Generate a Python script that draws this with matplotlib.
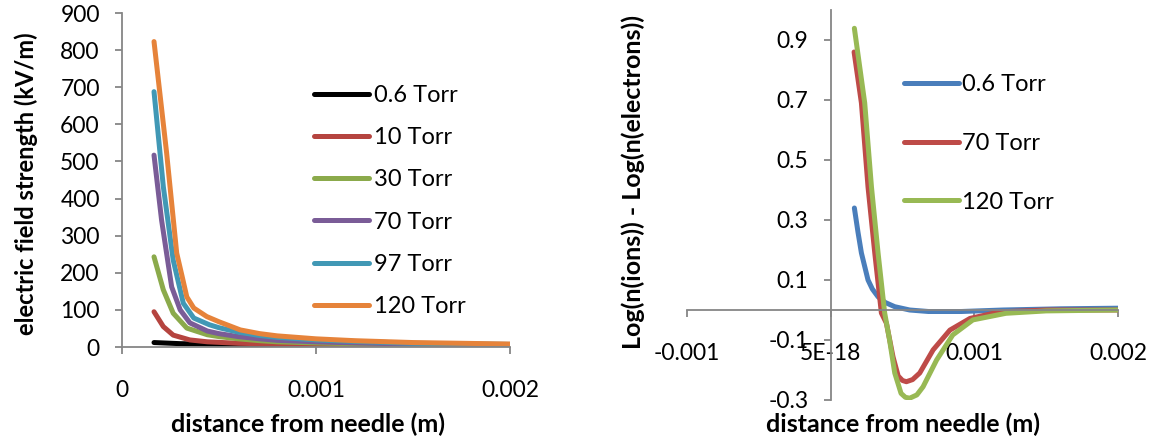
import matplotlib
matplotlib.use("Agg")
import matplotlib.pyplot as plt

plt.rcParams['font.family'] = ['Lato', 'DejaVu Sans']

# Left chart: electric field strength (kV/m) vs distance from needle (m)
field_labels = ['0.6 Torr', '10 Torr', '30 Torr', '70 Torr', '97 Torr', '120 Torr']
x_06 = [0.000165, 0.0003, 0.0005, 0.001, 0.002]
e_06 = [12, 9, 7, 5.5, 5]
x_10 = [0.000165, 0.000213, 0.000264, 0.00035, 0.00044, 0.0006, 0.0008, 0.001, 0.0015, 0.002]
e_10 = [95, 55, 32, 19, 14, 10, 8, 7, 6, 5]
x_30 = [0.000165, 0.000213, 0.000264, 0.000334, 0.00044, 0.0005, 0.0006, 0.00071, 0.0008,
        0.001, 0.0012, 0.0015, 0.002]
e_30 = [243, 154, 91, 51, 33, 28, 22, 17, 14, 11, 9, 7, 5]
x_70 = [0.000165, 0.000204, 0.000256, 0.0003, 0.00035, 0.00044, 0.0005, 0.0006, 0.00071,
        0.0008, 0.001, 0.0012, 0.0015, 0.002]
e_70 = [517, 342, 162, 100, 65, 43, 36, 28, 22, 18, 14, 11, 8, 6]
x_97 = [0.000165, 0.000213, 0.000264, 0.000316, 0.00037, 0.00045, 0.0005, 0.0006, 0.00071,
        0.0008, 0.001, 0.0012, 0.0015, 0.002]
e_97 = [688, 432, 234, 118, 78, 60, 52, 40, 31, 26, 19, 15, 10, 7]
x_120 = [0.000165, 0.00023, 0.000282, 0.00031, 0.000334, 0.00037, 0.000437, 0.0005, 0.00061,
         0.00071, 0.0008, 0.001, 0.0012, 0.0015, 0.002]
e_120 = [823, 523, 253, 190, 135, 105, 82, 68, 46, 36, 30, 22, 17, 12, 8]
field_colors = ['#000000', '#B5443F', '#8BAA4B', '#7A5C97', '#4198B5', '#E6833A']

# Right chart: Log(n(ions)) - Log(n(electrons)) vs distance from needle (m)
ratio_labels = ['0.6 Torr', '70 Torr', '120 Torr']
x_r06 = [0.000165, 0.00019, 0.000214, 0.00026, 0.00029, 0.00033, 0.00038, 0.000446, 0.00055,
         0.00068, 0.00091, 0.0012, 0.0016, 0.002]
r_06 = [0.34, 0.26, 0.19, 0.10, 0.07, 0.044, 0.025, 0.011, 0.0, -0.005, -0.005, 0.0, 0.004,
        0.006]
x_r70 = [0.000163, 0.000214, 0.00026, 0.000307, 0.000353, 0.000388, 0.000434, 0.00047,
         0.0005, 0.000527, 0.00057, 0.00062, 0.000713, 0.00083, 0.00097, 0.00118, 0.0015, 0.002]
r_70 = [0.86, 0.69, 0.41, 0.19, -0.01, -0.044, -0.156, -0.22, -0.235, -0.239, -0.232, -0.21,
        -0.133, -0.067, -0.028, -0.006, 0.0, 0.0]
x_r120 = [0.000165, 0.000237, 0.000284, 0.00033, 0.000376, 0.00041, 0.000446, 0.00049, 0.00052,
          0.00055, 0.0006, 0.000643, 0.000737, 0.00085, 0.00099, 0.00122, 0.0015, 0.002]
r_120 = [0.939, 0.69, 0.41, 0.19, -0.01, -0.1, -0.21, -0.278, -0.291, -0.294, -0.283, -0.256,
         -0.167, -0.083, -0.033, -0.011, -0.003, 0.0]
ratio_colors = ['#4A7EBB', '#BE4B48', '#98B954']

W, H = 1160, 445
fig = plt.figure(figsize=(W / 100, H / 100), dpi=100)
axis_grey = '#868686'

# ---- left chart
ax1 = fig.add_axes([122 / W, 1 - 347 / H, 388 / W, 334 / H])
for xs, vals, lab, col in zip([x_06, x_10, x_30, x_70, x_97, x_120],
                              [e_06, e_10, e_30, e_70, e_97, e_120],
                              field_labels, field_colors):
    ax1.plot(xs, vals, color=col, lw=3.6, label=lab, solid_capstyle='round',
             solid_joinstyle='round')
ax1.set_xlim(0, 0.002)
ax1.set_ylim(0, 900)
ax1.set_xticks([0, 0.001, 0.002])
ax1.set_xticklabels(['0', '0.001', '0.002'])
ax1.set_yticks(range(0, 901, 100))
for s in ['top', 'right']:
    ax1.spines[s].set_visible(False)
for s in ['left', 'bottom']:
    ax1.spines[s].set_color(axis_grey)
    ax1.spines[s].set_linewidth(1.3)
ax1.tick_params(axis='both', color=axis_grey, width=1.3, length=5, labelsize=16.5)
ax1.tick_params(axis='x', pad=19)
ax1.tick_params(axis='y', pad=11)
ax1.set_xlabel('distance from needle (m)', fontsize=18, fontweight='bold')
ax1.xaxis.set_label_coords(0.48, -0.195)
ax1.set_ylabel('electric field strength (kV/m)', fontsize=17, fontweight='bold')
ax1.yaxis.set_label_coords(-0.216, 0.49)
ax1.legend(loc='upper left', bbox_to_anchor=(314 / W, 1 - 85 / H),
           bbox_transform=fig.transFigure, frameon=False, fontsize=17,
           handlelength=2.35, handletextpad=0.17, labelspacing=0.9,
           borderpad=0, borderaxespad=0)

# ---- right chart
ax2 = fig.add_axes([687 / W, 1 - 400 / H, 431 / W, 390 / H])
for xs, ys, lab, col in zip([x_r06, x_r70, x_r120], [r_06, r_70, r_120],
                            ratio_labels, ratio_colors):
    ax2.plot(xs, ys, color=col, lw=3.6, label=lab, solid_capstyle='round',
             solid_joinstyle='round')
ax2.set_xlim(-0.001, 0.002)
ax2.set_ylim(-0.3, 1.0)
ax2.set_xticks([-0.001, 0, 0.001, 0.002])
ax2.set_xticklabels(['-0.001', '5E-18', '0.001', '0.002'])
ax2.set_yticks([0.9, 0.7, 0.5, 0.3, 0.1, -0.1, -0.3])
ax2.set_yticklabels(['0.9', '0.7', '0.5', '0.3', '0.1', '-0.1', '-0.3'])
for s in ['top', 'right']:
    ax2.spines[s].set_visible(False)
ax2.spines['left'].set_position(('data', 0))
ax2.spines['bottom'].set_position(('data', 0))
for s in ['left', 'bottom']:
    ax2.spines[s].set_color(axis_grey)
    ax2.spines[s].set_linewidth(1.3)
ax2.tick_params(axis='both', color=axis_grey, width=1.3, length=5, labelsize=16.5)
ax2.tick_params(axis='x', pad=19)
ax2.tick_params(axis='y', pad=11)
ax2.set_xlabel('distance from needle (m)', fontsize=18, fontweight='bold')
ax2.xaxis.set_label_coords(0.5, -0.032)
ax2.set_ylabel('Log(n(ions)) - Log(n(electrons))', fontsize=18, fontweight='bold')
ax2.yaxis.set_label_coords(-0.097, 0.56)
ax2.legend(loc='upper left', bbox_to_anchor=(904 / W, 1 - 74 / H),
           bbox_transform=fig.transFigure, frameon=False, fontsize=17,
           handlelength=2.35, handletextpad=0.12, labelspacing=1.6,
           borderpad=0, borderaxespad=0)

fig.savefig('out.png', dpi=100)
